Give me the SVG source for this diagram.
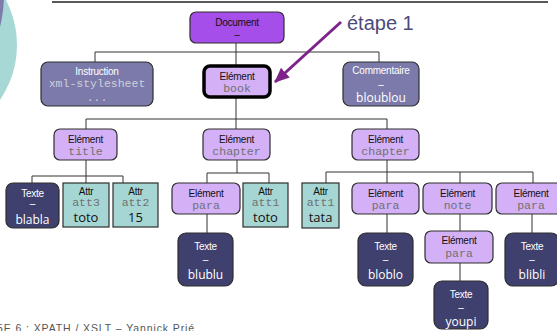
<svg xmlns="http://www.w3.org/2000/svg" width="557" height="331" viewBox="0 0 557 331">
  <defs>
    <style>
      .box { stroke: #2e2e2e; stroke-width: 1.2; }
      .doc { fill: #a64ee9; }
      .elem { fill: #d4b0f7; }
      .misc { fill: #7b7aab; }
      .txt { fill: #40406f; }
      .attr { fill: #a6d6d4; }
      .lbl { font-family: "Liberation Sans Narrow", "Liberation Sans", Arial, sans-serif; font-size: 10px; letter-spacing: -0.25px; text-anchor: middle; fill: #111; }
      .lbl.w { fill: #fff; }
      .mono { font-family: "Liberation Mono", "Courier New", monospace; font-size: 11.5px; text-anchor: middle; fill: #707070; }
      .mono.l { fill: #d0d0d8; }
      .val { font-family: "Open Sans", "Liberation Sans", sans-serif; font-size: 12px; text-anchor: middle; fill: #111; }
      .val.w { fill: #fff; }
      .val.big { font-size: 13px; }
      .conn { fill: none; stroke: #333; stroke-width: 1; }
    </style>
    <marker id="arrowhead" markerUnits="userSpaceOnUse" markerWidth="15" markerHeight="13" refX="14" refY="6.5" orient="auto">
      <path d="M0,0 L15,6.5 L0,13 z" fill="#7c2489"/>
    </marker>
  </defs>

  <!-- page decoration -->
  <circle cx="-80" cy="45" r="97" fill="#a7d8d6"/>
  <circle cx="-126" cy="-5" r="130" fill="#7d7cac"/>
  <line x1="52" y1="2" x2="548" y2="2" stroke="#222" stroke-width="1.5"/>

  <!-- connectors -->
  <g id="connectors">
    <path class="conn" d="M236,43 V66"/>
    <path class="conn" d="M95,62 V52 H379 V62"/>
    <path class="conn" d="M236,97 V129 M86,129 V119 H387 V129"/>
    <path class="conn" d="M86,160 V183 M32,183 V176 H123 V183"/>
    <path class="conn" d="M237,160 V173 M207,183 V173 H269 V183 M207,214 V233"/>
    <path class="conn" d="M387,160 V183 M326,183 V172 H533 V183 M460,172 V183"/>
    <path class="conn" d="M387,214 V233 M460,214 V231 M460,263 V281 M532,214 V233"/>
  </g>

  <!-- root -->
  <g id="document">
    <rect class="box doc" x="190" y="12" width="94" height="31" rx="6"/>
    <text class="lbl" x="237" y="26">Document</text>
    <text class="lbl" x="237" y="38">–</text>
  </g>

  <g id="instruction">
    <rect class="box misc" x="41" y="62" width="112" height="44" rx="7"/>
    <text class="lbl w" x="97" y="75">Instruction</text>
    <text class="mono l" x="97" y="87">xml-stylesheet</text>
    <text class="mono l" x="97" y="101">...</text>
  </g>

  <g id="book">
    <rect x="204" y="66" width="66" height="31" rx="6" fill="#d4b0f7" stroke="#000" stroke-width="3.5"/>
    <text class="lbl" x="237" y="80">Elément</text>
    <text class="mono" x="237" y="92">book</text>
  </g>

  <g id="commentaire">
    <rect class="box misc" x="343" y="62" width="76" height="44" rx="7"/>
    <text class="lbl w" x="381" y="74">Commentaire</text>
    <text class="lbl w" x="381" y="88">–</text>
    <text class="val w" x="381" y="102">bloublou</text>
  </g>

  <!-- step annotation -->
  <g id="etape">
    <line x1="341" y1="22" x2="275" y2="82" stroke="#7c2489" stroke-width="3" marker-end="url(#arrowhead)"/>
    <text x="347" y="30" font-family="Liberation Sans, Arial, sans-serif" font-size="20" fill="#4b4b7b">étape 1</text>
  </g>

  <!-- level 2 -->
  <g id="title">
    <rect class="box elem" x="54" y="129" width="63" height="31" rx="6"/>
    <text class="lbl" x="85.5" y="143">Elément</text>
    <text class="mono" x="85.5" y="155">title</text>
  </g>
  <g id="chapter1">
    <rect class="box elem" x="203" y="129" width="67" height="31" rx="6"/>
    <text class="lbl" x="236.5" y="143">Elément</text>
    <text class="mono" x="236.5" y="155">chapter</text>
  </g>
  <g id="chapter2">
    <rect class="box elem" x="352" y="129" width="67" height="31" rx="6"/>
    <text class="lbl" x="385.5" y="143">Elément</text>
    <text class="mono" x="385.5" y="155">chapter</text>
  </g>

  <!-- level 3 : title -->
  <g id="blabla">
    <rect class="box txt" x="6" y="183" width="53" height="45" rx="7"/>
    <text class="lbl w" x="32.5" y="197">Texte</text>
    <text class="lbl w" x="32.5" y="207">–</text>
    <text class="val w" x="32.5" y="224">blabla</text>
  </g>
  <g id="att3">
    <rect class="box attr" x="63" y="183" width="46" height="44"/>
    <text class="lbl" x="86" y="195">Attr</text>
    <text class="mono" x="86" y="206">att3</text>
    <text class="val big" x="86" y="222">toto</text>
  </g>
  <g id="att2">
    <rect class="box attr" x="113" y="183" width="45" height="44"/>
    <text class="lbl" x="135.5" y="195">Attr</text>
    <text class="mono" x="135.5" y="206">att2</text>
    <text class="val big" x="135.5" y="222">15</text>
  </g>

  <!-- level 3 : first chapter -->
  <g id="para1">
    <rect class="box elem" x="172" y="183" width="68" height="31" rx="6"/>
    <text class="lbl" x="206" y="197">Elément</text>
    <text class="mono" x="206" y="209">para</text>
  </g>
  <g id="att1a">
    <rect class="box attr" x="243" y="183" width="45" height="44"/>
    <text class="lbl" x="265.5" y="195">Attr</text>
    <text class="mono" x="265.5" y="206">att1</text>
    <text class="val big" x="265.5" y="222">toto</text>
  </g>
  <g id="blublu">
    <rect class="box txt" x="178" y="233" width="55" height="53" rx="8"/>
    <text class="lbl w" x="205.5" y="250">Texte</text>
    <text class="lbl w" x="205.5" y="263">–</text>
    <text class="val w" x="205.5" y="279">blublu</text>
  </g>

  <!-- level 3 : second chapter -->
  <g id="att1b">
    <rect class="box attr" x="302" y="183" width="37" height="45"/>
    <text class="lbl" x="320.5" y="195">Attr</text>
    <text class="mono" x="320.5" y="206">att1</text>
    <text class="val big" x="320.5" y="222">tata</text>
  </g>
  <g id="para2">
    <rect class="box elem" x="352" y="183" width="67" height="31" rx="6"/>
    <text class="lbl" x="385.5" y="197">Elément</text>
    <text class="mono" x="385.5" y="209">para</text>
  </g>
  <g id="note">
    <rect class="box elem" x="423" y="183" width="69" height="31" rx="6"/>
    <text class="lbl" x="457.5" y="197">Elément</text>
    <text class="mono" x="457.5" y="209">note</text>
  </g>
  <g id="para3">
    <rect class="box elem" x="496" y="183" width="72" height="31" rx="6"/>
    <text class="lbl" x="531" y="197">Elément</text>
    <text class="mono" x="531" y="209">para</text>
  </g>
  <g id="bloblo">
    <rect class="box txt" x="358" y="233" width="55" height="53" rx="8"/>
    <text class="lbl w" x="385.5" y="250">Texte</text>
    <text class="lbl w" x="385.5" y="263">–</text>
    <text class="val w" x="385.5" y="279">bloblo</text>
  </g>
  <g id="para4">
    <rect class="box elem" x="425" y="231" width="68" height="32" rx="6"/>
    <text class="lbl" x="459" y="244">Elément</text>
    <text class="mono" x="459" y="257">para</text>
  </g>
  <g id="blibli">
    <rect class="box txt" x="505" y="233" width="54" height="53" rx="8"/>
    <text class="lbl w" x="532" y="250">Texte</text>
    <text class="lbl w" x="532" y="263">–</text>
    <text class="val w" x="532" y="279">blibli</text>
  </g>
  <g id="youpi">
    <rect class="box txt" x="434" y="281" width="54" height="48" rx="8"/>
    <text class="lbl w" x="461" y="298">Texte</text>
    <text class="lbl w" x="461" y="311">–</text>
    <text class="val w" x="461" y="326">youpi</text>
  </g>

  <!-- footer, running off the bottom edge -->
  <text x="-3" y="332" font-family="Liberation Sans, Arial, sans-serif" font-size="10.5" letter-spacing="0.9" fill="#555">5E 6 : XPATH / XSLT – Yannick Prié</text>
</svg>
